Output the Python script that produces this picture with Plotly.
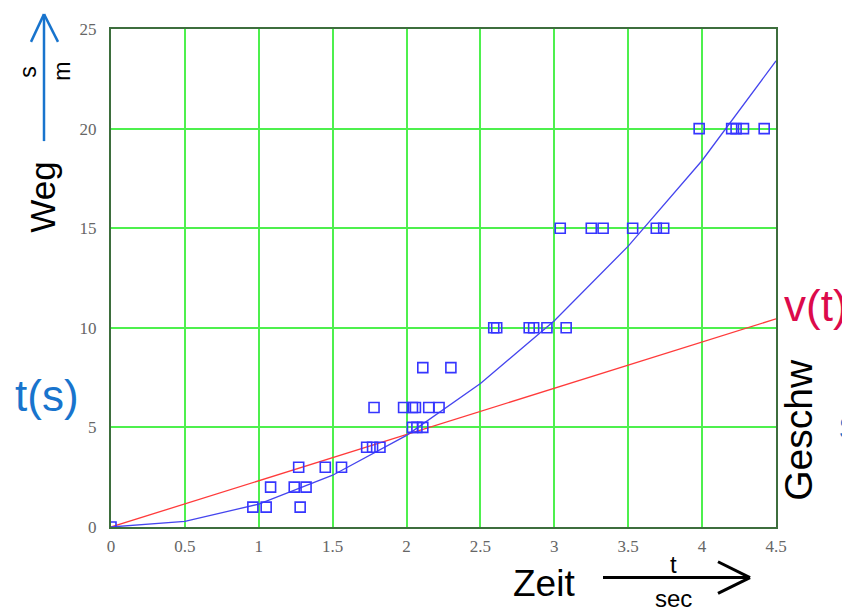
import plotly.graph_objects as go

# measured data points (time in s, distance in m)
t_meas = [0, 0.96, 1.05, 1.28, 1.08, 1.24, 1.32, 1.27, 1.45, 1.56,
          1.73, 1.77, 1.82, 1.78, 1.98, 2.04, 2.06, 2.15, 2.22,
          2.04, 2.07, 2.11, 2.11, 2.30,
          2.59, 2.61, 2.83, 2.86, 2.95, 3.08,
          3.04, 3.25, 3.33, 3.53, 3.69, 3.74,
          3.98, 4.20, 4.23, 4.28, 4.42]
s_meas = [0, 1, 1, 1, 2, 2, 2, 3, 3, 3,
          4, 4, 4, 6, 6, 6, 6, 6, 6,
          5, 5, 5, 8, 8,
          10, 10, 10, 10, 10, 10,
          15, 15, 15, 15, 15, 15,
          20, 20, 20, 20, 20]

# fitted curve s(t), sampled every 0.5 s
t_fit = [0, 0.5, 1, 1.5, 2, 2.5, 3, 3.5, 4, 4.5]
s_fit = [0, 0.28, 1.15, 2.6, 4.6, 7.2, 10.35, 14.1, 18.4, 23.4]

# straight line v(t)
t_lin = [0, 4.5]
s_lin = [0, 10.45]

x_ticks = [0, 0.5, 1, 1.5, 2, 2.5, 3, 3.5, 4, 4.5]
x_tick_text = ["0", "0.5", "1", "1.5", "2", "2.5", "3", "3.5", "4", "4.5"]
y_ticks = [0, 5, 10, 15, 20, 25]
y_tick_text = ["0", "5", "10", "15", "20", "25"]

OFF = 8  # page body margin
W, H = 850 - OFF, 612 - OFF
L, R, T, B = 111, 776, 25, 527  # plot area in page pixels


def px(x):
    return (x - L) / (R - L)


def py(y):
    return (B - y) / (B - T)


fig = go.Figure()
fig.add_trace(go.Scatter(x=t_lin, y=s_lin, mode="lines",
                         line=dict(color="#ff3b3b", width=1.3), hoverinfo="skip"))
fig.add_trace(go.Scatter(x=t_fit, y=s_fit, mode="lines",
                         line=dict(color="#4545ee", width=1.3), hoverinfo="skip"))
fig.add_trace(go.Scatter(x=t_meas, y=s_meas, mode="markers",
                         marker=dict(symbol="square-open", size=10,
                                     color="#3535ff", line=dict(width=1.6, color="#3535ff"))))

axis_common = dict(showgrid=True, gridcolor="#4ef04e", gridwidth=2,
                   showline=True, linecolor="#3d6e3d", linewidth=2, mirror=True,
                   zeroline=False, ticks="",
                   tickfont=dict(family="Liberation Serif, Times New Roman, serif",
                                 size=17, color="#666666"))

fig.update_xaxes(range=[0, 4.5], tickvals=x_ticks, ticktext=x_tick_text,
                 ticklabelstandoff=3, **axis_common)
fig.update_yaxes(range=[0, 25], tickvals=y_ticks, ticktext=y_tick_text,
                 ticklabelstandoff=9, **axis_common)

blue = "#1874cd"
sans = "Liberation Sans, Arial, sans-serif"
ann = []


def add_text(text, x, y, size, color="black", angle=0, xanchor="center", yanchor="middle"):
    ann.append(dict(text=text, x=px(x), y=py(y), xref="paper", yref="paper",
                    showarrow=False, textangle=angle, xanchor=xanchor, yanchor=yanchor,
                    font=dict(family=sans, size=size, color=color)))


add_text("Weg", 43, 195, 35, angle=-90)
add_text("s", 28, 68, 23, angle=-90)
add_text("m", 62, 68, 23, angle=-90)
add_text("t(s)", 47, 394, 44, color=blue)
add_text("v(t)", 782, 304, 44, color="#dc0a4b", xanchor="left")
add_text("Geschw", 799, 429, 39, angle=-90)
add_text("s", 837, 424, 40, color=blue, xanchor="left")
add_text("Zeit", 544, 584, 37)
add_text("t", 673, 565, 24)
add_text("sec", 673, 599, 24)

shapes = []


def seg(x0, y0, x1, y1, color, width):
    shapes.append(dict(type="line", xref="paper", yref="paper",
                       x0=px(x0), y0=py(y0), x1=px(x1), y1=py(y1),
                       line=dict(color=color, width=width)))


# up arrow (Weg)
seg(44, 138, 44, 10, blue, 2.5)
seg(44, 10, 31, 38, blue, 2.5)
seg(44, 10, 58, 38, blue, 2.5)
# right arrow (Zeit)
seg(603, 578, 750, 578, "black", 3)
seg(750, 578, 718, 562, "black", 3)
seg(750, 578, 718, 594, "black", 3)

fig.update_layout(width=W, height=H, autosize=False,
                  margin=dict(l=L - OFF, r=(850 - R), t=T - OFF, b=(612 - B), pad=0),
                  paper_bgcolor="white", plot_bgcolor="white",
                  showlegend=False, annotations=ann, shapes=shapes)

fig.write_html("out.html")
